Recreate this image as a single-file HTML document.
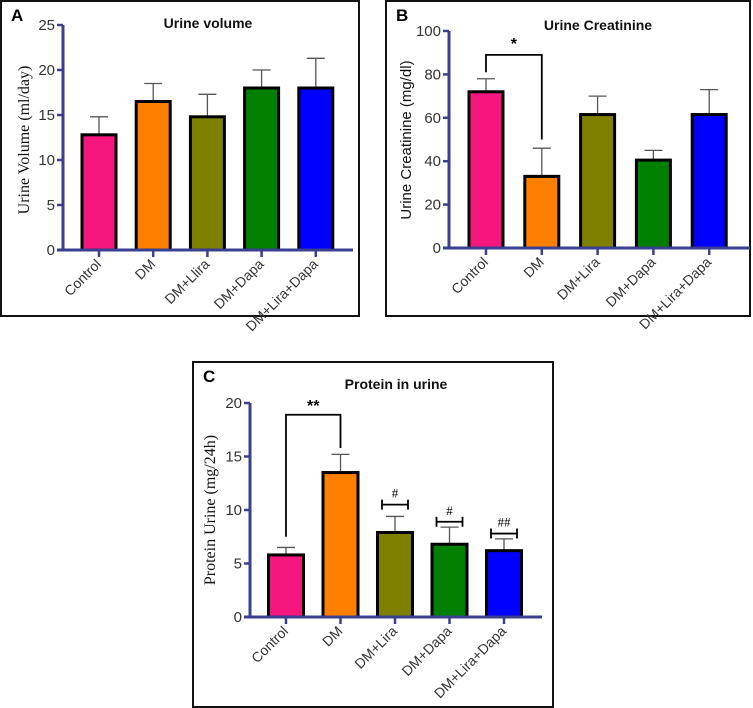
<!DOCTYPE html>
<html><head><meta charset="utf-8"><style>
body{margin:0;background:#fff;width:753px;height:708px;overflow:hidden}
svg{display:block}
</style></head><body>
<svg id="s" width="753" height="708" xmlns="http://www.w3.org/2000/svg"></svg>
<script>
const categories = ["Control","DM","DM+Lira","DM+Dapa","DM+Lira+Dapa"];
const categoriesA = ["Control","DM","DM+Llira","DM+Dapa","DM+Lira+Dapa"];
const colors = ["#f5177e","#ff8000","#7f7f00","#007f00","#0000ff"];
const volumeMeans = [12.8,16.5,14.8,18.0,18.0];
const volumeErr = [14.8,18.5,17.3,20.0,21.3];
const volumeTicks = [0,5,10,15,20,25];
const creatMeans = [72,33,61.5,40.5,61.5];
const creatErr = [78,46,70,45,73];
const creatTicks = [0,20,40,60,80,100];
const protMeans = [5.8,13.5,7.9,6.8,6.2];
const protErr = [6.5,15.2,9.4,8.4,7.3];
const protTicks = [0,5,10,15,20];
const protHashLevels = [10.5,8.9,7.8];
const protHashLabels = ["#","#","##"];

const svg=document.getElementById('s');
const NS="http://www.w3.org/2000/svg";
function el(tag,attrs,parent,text){const e=document.createElementNS(NS,tag);for(const k in attrs)e.setAttribute(k,attrs[k]);if(text!==undefined)e.textContent=text;(parent||svg).appendChild(e);return e;}

function panel(p){
  const g=el('g',{});
  
  
  const box=el('rect',{x:p.box[0],y:p.box[1],width:p.box[2],height:p.box[3],fill:'none',stroke:'#111','stroke-width':2},g);
  
  const L=el('text',{x:p.box[0]+10,y:p.box[1]+20,'font-family':'Liberation Sans, sans-serif','font-weight':'bold','font-size':17,fill:'#000'},g,p.letter);
  
  const T=el('text',{x:p.titleX,y:p.titleY,'text-anchor':'middle','font-family':'Liberation Sans, sans-serif','font-weight':'bold','font-size':14,fill:'#111'},g,p.title);
  
  const y=v=>p.y0-(v-p.ticks[0])/(p.ticks[p.ticks.length-1]-p.ticks[0])*(p.y0-p.yTop);
  const x=i=>p.x0+i*p.step;
  p.means.forEach((m,i)=>{
    const eb=el('g',{},g);
    el('line',{x1:x(i),x2:x(i),y1:y(m),y2:y(p.err[i]),stroke:'#555','stroke-width':1.3},eb);
    el('line',{x1:x(i)-9,x2:x(i)+9,y1:y(p.err[i]),y2:y(p.err[i]),stroke:'#555','stroke-width':1.3},eb);
    const b=el('rect',{x:x(i)-p.bw/2,y:y(m),width:p.bw,height:y(0)-y(m),fill:colors[i],stroke:'#000','stroke-width':3},g);
    
    
  });
  const ax=el('g',{},g);
  el('line',{x1:p.axisX,x2:p.axisX,y1:p.yTop,y2:p.y0+1.5,stroke:'#3a3f8f','stroke-width':3},ax);
  el('line',{x1:p.axisX-6,x2:p.xEnd,y1:p.y0,y2:p.y0,stroke:'#3a3f8f','stroke-width':3},ax);
  p.ticks.forEach(t=>{
    el('line',{x1:p.axisX-6,x2:p.axisX,y1:y(t),y2:y(t),stroke:'#3a3f8f','stroke-width':2.5},ax);
    const tl=el('text',{x:p.axisX-8,y:y(t)+5,'text-anchor':'end','font-family':'Liberation Sans, sans-serif','font-size':15,fill:'#333'},ax,String(t));
    
  });
  p.cats.forEach((c,i)=>{
    el('line',{x1:x(i),x2:x(i),y1:p.y0,y2:p.y0+7,stroke:'#3a3f8f','stroke-width':2.5},ax);
    const cl=el('text',{x:x(i)+3,y:p.y0+15,'text-anchor':'end','font-family':'Liberation Sans, sans-serif','font-size':14,fill:'#333',transform:`rotate(-45 ${x(i)+3} ${p.y0+15})`},ax,c);
    
  });
  const yl=el('text',{x:p.ylabX,y:p.ylabY,'text-anchor':'middle','font-family':p.ylabFont,'font-size':p.ylabSize,fill:'#111',transform:`rotate(-90 ${p.ylabX} ${p.ylabY})`},g,p.ylab);
  
  return {g,x,y};
}

panel({name:'panel-a-urine-volume',box:[1,1,358,315],letter:'A',title:'Urine volume',titleX:208,titleY:28,
  means:volumeMeans,err:volumeErr,ticks:volumeTicks,cats:categoriesA,x0:99,step:54.2,bw:34,axisX:63,y0:250,yTop:25,xEnd:353,
  ylab:'Urine Volume (ml/day)',ylabX:29,ylabY:140,ylabFont:'Liberation Serif, serif',ylabSize:16});

const B=panel({name:'panel-b-urine-creatinine',box:[386,1,364,315],letter:'B',title:'Urine Creatinine',titleX:598,titleY:30,
  means:creatMeans,err:creatErr,ticks:creatTicks,cats:categories,x0:486,step:55.8,bw:34,axisX:449,y0:248,yTop:31,xEnd:750,
  ylab:'Urine Creatinine (mg/dl)',ylabX:411,ylabY:140,ylabFont:'Liberation Sans, sans-serif',ylabSize:15});
const sb=el('g',{},B.g);
el('polyline',{points:`${B.x(0)},${B.y(81)} ${B.x(0)},${B.y(89)} ${B.x(1)},${B.y(89)} ${B.x(1)},${B.y(50)}`,fill:'none',stroke:'#000','stroke-width':1.8},sb);
el('text',{x:(B.x(0)+B.x(1))/2,y:B.y(89)-6,'text-anchor':'middle','font-family':'Liberation Sans, sans-serif','font-weight':'bold','font-size':16},sb,'*');

const C=panel({name:'panel-c-protein-in-urine',box:[193,362,360,345],letter:'C',title:'Protein in urine',titleX:396,titleY:389,
  means:protMeans,err:protErr,ticks:protTicks,cats:categories,x0:286,step:54.5,bw:35,axisX:250,y0:617,yTop:403,xEnd:542,
  ylab:'Protein Urine (mg/24h)',ylabX:215,ylabY:510,ylabFont:'Liberation Serif, serif',ylabSize:16});
const sc=el('g',{},C.g);
el('polyline',{points:`${C.x(0)},${C.y(7.5)} ${C.x(0)},${C.y(18.9)} ${C.x(1)},${C.y(18.9)} ${C.x(1)},${C.y(15.8)}`,fill:'none',stroke:'#000','stroke-width':1.8},sc);
el('text',{x:(C.x(0)+C.x(1))/2,y:C.y(18.9)-4,'text-anchor':'middle','font-family':'Liberation Sans, sans-serif','font-weight':'bold','font-size':16},sc,'**');
protHashLevels.forEach((v,k)=>{
  const i=k+2,yy=C.y(v);
  const h=el('g',{},C.g);
  
  
  el('line',{x1:C.x(i)-13,x2:C.x(i)+13,y1:yy,y2:yy,stroke:'#000','stroke-width':1.8},h);
  el('line',{x1:C.x(i)-13,x2:C.x(i)-13,y1:yy-5,y2:yy+5,stroke:'#000','stroke-width':1.8},h);
  el('line',{x1:C.x(i)+13,x2:C.x(i)+13,y1:yy-5,y2:yy+5,stroke:'#000','stroke-width':1.8},h);
  el('text',{x:C.x(i),y:yy-7,'text-anchor':'middle','font-family':'Liberation Serif, serif','font-size':13},h,protHashLabels[k]);
});
</script>
</body></html>
